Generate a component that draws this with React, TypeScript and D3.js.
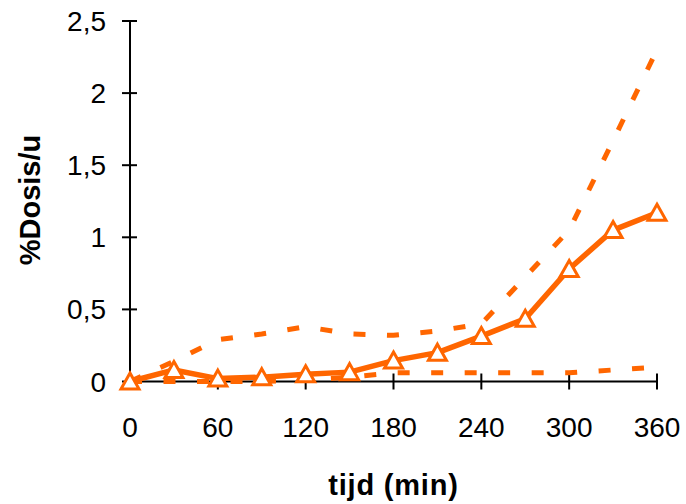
import React from "react";
import * as d3 from "d3";

const times = [0, 30, 60, 90, 120, 150, 180, 210, 240, 270, 300, 330, 360];
const meanValues = [0, 0.08, 0.02, 0.03, 0.05, 0.065, 0.145, 0.2, 0.315, 0.435, 0.78, 1.05, 1.17];
const upperValues = [0, 0.14, 0.29, 0.33, 0.38, 0.33, 0.32, 0.35, 0.4, 0.725, 1.05, 1.67, 2.3];
const lowerValues = [0, 0, 0, 0, 0.01, 0.03, 0.06, 0.06, 0.06, 0.06, 0.06, 0.08, 0.1];
const xTicks = [0, 60, 120, 180, 240, 300, 360];
const yTicks = [0, 0.5, 1, 1.5, 2, 2.5];
const xTitle = "tijd (min)";
const yTitle = "%Dosis/u";

const ORANGE = "#FF6600";
const W = 686;
const H = 504;

export default function App() {
  const x = d3.scaleLinear().domain([0, 360]).range([130, 657]);
  const y = d3.scaleLinear().domain([0, 2.5]).range([381.5, 21]);
  const line = d3
    .line<number>()
    .x((_, i) => x(times[i]))
    .y((v) => y(v));
  const fmt = (v: number) => String(v).replace(".", ",");
  const font = "'Liberation Sans', Arial, sans-serif";

  return (
    <svg
      width={W}
      height={H}
      style={{ position: "absolute", left: 0, top: 0, background: "#fff" }}
      fontFamily={font}
    >
      {/* axes */}
      <line x1={x(0)} x2={x(0)} y1={y(2.5)} y2={y(0)} stroke="#000" strokeWidth={2} />
      <line x1={x(0)} x2={x(360)} y1={y(0)} y2={y(0)} stroke="#000" strokeWidth={2} />
      {yTicks.map((t) => (
        <g key={"y" + t}>
          <line x1={x(0) - 8} x2={x(0) + 7} y1={y(t)} y2={y(t)} stroke="#000" strokeWidth={2} />
          <text x={x(0) - 24} y={y(t) + 10} textAnchor="end" fontSize={28} fill="#000">
            {fmt(t)}
          </text>
        </g>
      ))}
      {xTicks.map((t) => (
        <g key={"x" + t}>
          <line x1={x(t)} x2={x(t)} y1={y(0) - 8} y2={y(0) + 8} stroke="#000" strokeWidth={2} />
          <text x={x(t)} y={437} textAnchor="middle" fontSize={28} fill="#000">
            {t}
          </text>
        </g>
      ))}
      <text x={(x(0) + x(360)) / 2} y={495} textAnchor="middle" fontSize={29} fontWeight="bold" fill="#000" letterSpacing={0.8}>
        {xTitle}
      </text>
      <text
        transform={`translate(40,200) rotate(-90)`}
        textAnchor="middle"
        fontSize={29}
        fontWeight="bold"
        fill="#000"
      >
        {yTitle}
      </text>

      {/* dashed range lines */}
      <path d={line(upperValues) || ""} fill="none" stroke={ORANGE} strokeWidth={5} strokeDasharray="12 21.5" />
      <path d={line(lowerValues) || ""} fill="none" stroke={ORANGE} strokeWidth={5} strokeDasharray="12 21.5" />

      {/* mean line */}
      <path d={line(meanValues) || ""} fill="none" stroke={ORANGE} strokeWidth={5.5} strokeLinejoin="round" />
      {meanValues.map((v, i) => {
        const cx = x(times[i]);
        const cy = y(v);
        const d = `M${cx},${cy - 8.5} L${cx + 9},${cy + 7.5} L${cx - 9},${cy + 7.5} Z`;
        return <path key={i} d={d} fill="#fff" stroke={ORANGE} strokeWidth={3} strokeLinejoin="miter" />;
      })}
    </svg>
  );
}
